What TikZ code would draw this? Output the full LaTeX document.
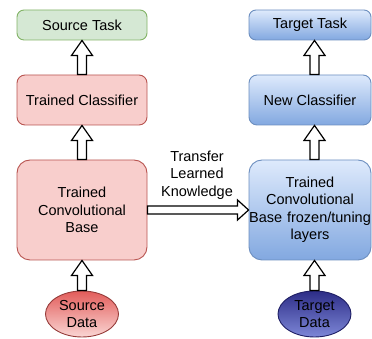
\documentclass[tikz,border=0pt]{standalone}
\usepackage{fontspec}
\setmainfont{Liberation Sans}
\usetikzlibrary{calc,shapes.geometric}
\definecolor{redfill}{RGB}{248,206,204}
\definecolor{redline}{RGB}{184,84,80}
\definecolor{greenfill}{RGB}{213,232,212}
\definecolor{greenline}{RGB}{130,179,102}
\definecolor{bluetop}{RGB}{222,234,252}
\definecolor{bluebot}{RGB}{130,168,224}
\definecolor{blueline}{RGB}{108,142,191}
\definecolor{ellredtop}{RGB}{226,92,90}
\definecolor{ellredbot}{RGB}{250,214,212}
\definecolor{ellredline}{RGB}{150,60,58}
\definecolor{ellbluetop}{RGB}{45,45,135}
\definecolor{ellbluebot}{RGB}{125,135,215}
\definecolor{ellblueline}{RGB}{30,30,100}
\newcommand\uparrowblk[3]{%
  \draw[blockarrow] let \p0=(#1), \p1=(#2), \p2=(#3) in
    (\x0-4.5pt,\y1) -- (\x0-4.5pt,\y2-15pt) -- (\x0-10.5pt,\y2-15pt) -- (\x0,\y2)
    -- (\x0+10.5pt,\y2-15pt) -- (\x0+4.5pt,\y2-15pt) -- (\x0+4.5pt,\y1) -- cycle;}
\begin{document}
\begin{tikzpicture}[x=1pt,y=1pt,
  every node/.style={font=\fontsize{14.5}{17.5}\selectfont, text=black, align=center, inner sep=0pt},
  redbox/.style={draw=redline, fill=redfill, line width=0.9pt, rectangle, minimum width=130pt},
  greenbox/.style={draw=greenline, fill=greenfill, line width=0.9pt, rectangle, minimum width=130pt, minimum height=30pt, rounded corners=7pt},
  bluebox/.style={draw=blueline, top color=bluetop, bottom color=bluebot, line width=0.9pt, rectangle, minimum width=122pt},
  blockarrow/.style={draw=black, fill=white, line width=1.2pt, line join=miter},
  ellred/.style={ellipse, draw=ellredline, top color=ellredtop, bottom color=ellredbot, line width=0.9pt, minimum width=73pt, minimum height=46pt},
  ellblue/.style={ellipse, draw=ellblueline, top color=ellbluetop, bottom color=ellbluebot, line width=0.9pt, minimum width=73pt, minimum height=46pt},
]
\useasboundingbox (0,0) rectangle (372,339);
% left column
\node[greenbox] (st) at (82,314) {Source Task};
\node[redbox, minimum height=50pt, rounded corners=8pt] (tc) at (82,239) {Trained Classifier};
\node[redbox, minimum height=100pt, rounded corners=13pt] (cb) at (82,129) {Trained\\Convolutional\\Base};
\node[ellred] (sd) at (82,25) {Source\\Data};
% right column
\node[bluebox, minimum height=30pt, rounded corners=7pt] (tt) at (310,314) {Target Task};
\node[bluebox, minimum height=50pt, rounded corners=8pt] (nc) at (310,239) {New Classifier};
\node[bluebox, minimum height=100pt, rounded corners=13pt, text width=122pt] (tb) at (310,129) {Trained\\Convolutional\\\makebox[0pt]{Base frozen/tuning}\\layers};
\node[ellblue] (td) at (314.5,25) {Target\\Data};
% transfer label
\node (lab) at (197,164) {Transfer\\Learned\\Knowledge};
% vertical arrows
\uparrowblk{sd.north}{sd.north}{cb.south}
\uparrowblk{sd.north}{cb.north}{tc.south}
\uparrowblk{sd.north}{tc.north}{st.south}
\uparrowblk{td.north}{td.north}{tb.south}
\uparrowblk{td.north}{tb.north}{nc.south}
\uparrowblk{td.north}{nc.north}{tt.south}
% transfer arrow
\draw[blockarrow] let \p1=(cb.east), \p2=(tb.west) in
  (\x1,\y1+4pt) -- (\x2-11pt,\y1+4pt) -- (\x2-11pt,\y1+10pt) -- (\x2,\y1)
  -- (\x2-11pt,\y1-10pt) -- (\x2-11pt,\y1-4pt) -- (\x1,\y1-4pt) -- cycle;
\end{tikzpicture}
\end{document}
